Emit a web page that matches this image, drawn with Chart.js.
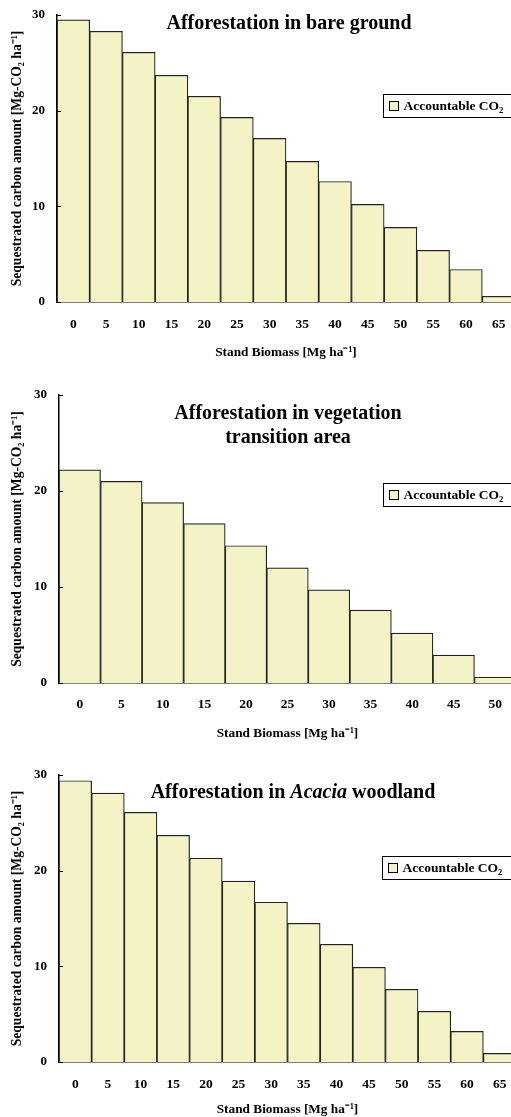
<!DOCTYPE html>
<html>
<head>
<meta charset="utf-8">
<script src="https://cdn.jsdelivr.net/npm/chart.js@4.4.1/dist/chart.umd.min.js"></script>
<style>
  html, body { margin: 0; padding: 0; background: #fff; overflow: hidden; }
  body { position: relative; width: 511px; height: 1117px; }
  canvas { position: absolute; left: 0; }
</style>
</head>
<body>
<canvas id="chartBare" width="520" height="362" style="top:0px;width:520px;height:362px"></canvas>
<canvas id="chartTransition" width="520" height="372" style="top:370px;width:520px;height:372px"></canvas>
<canvas id="chartAcacia" width="520" height="368" style="top:750px;width:520px;height:368px"></canvas>
<script>
// stand biomass classes (x tick labels)
const biomassBare = ["0", "5", "10", "15", "20", "25", "30", "35", "40", "45", "50", "55", "60", "65"];
const biomassTransition = ["0", "5", "10", "15", "20", "25", "30", "35", "40", "45", "50"];
const biomassAcacia = ["0", "5", "10", "15", "20", "25", "30", "35", "40", "45", "50", "55", "60", "65"];

// accountable CO2 [Mg-CO2 ha-1]
const co2Bare = [29.5, 28.3, 26.1, 23.7, 21.5, 19.3, 17.1, 14.7, 12.6, 10.2, 7.8, 5.4, 3.4, 0.6];
const co2Transition = [22.2, 21.0, 18.8, 16.6, 14.3, 12.0, 9.7, 7.6, 5.2, 2.9, 0.6];
const co2Acacia = [29.4, 28.1, 26.1, 23.7, 21.3, 18.9, 16.7, 14.5, 12.3, 9.9, 7.6, 5.3, 3.2, 0.9];

const yTickStep = 10;
const yMax = 30;

const serif = "'Liberation Serif', 'Times New Roman', serif";
const barFill = "#f3f3c6";
const barEdge = "#222";

// draws the in-plot title, the boxed legend and the small inward y ticks
const overlay = {
  id: "overlay",
  afterDraw(chart, args, o) {
    const { ctx, chartArea, scales } = chart;
    const y = scales.y;
    ctx.save();

    // inward tick marks on the y axis
    ctx.strokeStyle = "#000";
    ctx.lineWidth = 1;
    y.ticks.forEach((t) => {
      const py = Math.round(y.getPixelForValue(t.value)) + 0.5;
      ctx.beginPath();
      ctx.moveTo(chartArea.left, py);
      ctx.lineTo(chartArea.left + 4, py);
      ctx.stroke();
    });

    // title, possibly with italic segments
    ctx.fillStyle = "#000";
    ctx.textBaseline = "middle";
    o.title.forEach((line, i) => {
      const widths = line.map((seg) => {
        ctx.font = (seg.italic ? "italic " : "") + "bold 20px " + serif;
        return ctx.measureText(seg.text).width;
      });
      const total = widths.reduce((a, b) => a + b, 0);
      let x = o.titleX - total / 2;
      line.forEach((seg, j) => {
        ctx.font = (seg.italic ? "italic " : "") + "bold 20px " + serif;
        ctx.fillText(seg.text, x, o.titleY[i]);
        x += widths[j];
      });
    });

    // legend box
    const lx = o.legendX + 0.5, ly = o.legendY + 0.5;
    ctx.fillStyle = "#fff";
    ctx.fillRect(lx, ly, 140, 23);
    ctx.strokeStyle = "#000";
    ctx.strokeRect(lx, ly, 140, 23);
    ctx.fillStyle = barFill;
    ctx.fillRect(lx + 6, ly + 7, 9, 9);
    ctx.strokeRect(lx + 6, ly + 7, 9, 9);
    ctx.fillStyle = "#000";
    ctx.font = "bold 13.5px " + serif;
    ctx.textBaseline = "middle";
    const lbl = chart.data.datasets[0].label;
    ctx.fillText(lbl, lx + 20, ly + 12);
    const w = ctx.measureText(lbl).width;
    ctx.font = "bold 8.5px " + serif;
    ctx.fillText("2", lx + 20 + w, ly + 16);
    ctx.restore();
  },
};

function makeChart(id, labels, values, L) {
  return new Chart(document.getElementById(id), {
    type: "bar",
    data: {
      labels: labels,
      datasets: [
        {
          label: "Accountable CO",
          data: values,
          backgroundColor: barFill,
          borderColor: barEdge,
          borderWidth: 1.2,
          categoryPercentage: 1,
          barPercentage: 1,
        },
      ],
    },
    plugins: [overlay],
    options: {
      responsive: false,
      animation: false,
      layout: { padding: { top: L.top, right: 520 - L.right, bottom: 0, left: 0 } },
      plugins: {
        legend: { display: false },
        tooltip: { enabled: false },
        overlay: {
          title: L.title,
          titleX: L.titleX,
          titleY: L.titleY,
          legendX: L.legendX,
          legendY: L.legendY,
        },
      },
      scales: {
        x: {
          grid: { display: false, drawTicks: false },
          border: { color: "#000", width: 1.5 },
          ticks: {
            color: "#000",
            font: { family: serif, weight: "bold", size: 13.5 },
            padding: L.xTickPad,
            maxRotation: 0,
            autoSkip: false,
          },
          title: {
            display: true,
            text: "Stand Biomass [Mg ha⁻¹]",
            color: "#000",
            font: { family: serif, weight: "bold", size: 13.3 },
            padding: { top: 0, bottom: L.xTitlePad },
          },
          afterFit: (s) => {
            s.height = L.height - L.bottom;
            s.paddingLeft = 0;
            s.paddingRight = 0;
          },
        },
        y: {
          min: 0,
          max: yMax,
          grid: { display: false, drawTicks: false },
          border: { color: "#000", width: 1.5 },
          ticks: {
            stepSize: yTickStep,
            color: "#000",
            font: { family: serif, weight: "bold", size: 13 },
            padding: 12,
          },
          title: {
            display: true,
            text: "Sequestrated carbon amount [Mg-CO₂ ha⁻¹]",
            color: "#000",
            font: { family: serif, weight: "bold", size: 13.6 },
            padding: { top: 9, bottom: 0 },
          },
          afterFit: (s) => {
            s.width = L.left;
            s.paddingTop = 0;
            s.paddingBottom = 0;
          },
        },
      },
    },
  });
}

makeChart("chartBare", biomassBare, co2Bare, {
  height: 362, top: 15, bottom: 302, left: 57, right: 515,
  xTickPad: 14, xTitlePad: 1,
  title: [[{ text: "Afforestation in bare ground" }]],
  titleX: 289, titleY: [24],
  legendX: 383, legendY: 94,
});

makeChart("chartTransition", biomassTransition, co2Transition, {
  height: 372, top: 25, bottom: 313, left: 59, right: 516,
  xTickPad: 13, xTitlePad: 0,
  title: [[{ text: "Afforestation in vegetation" }], [{ text: "transition area" }]],
  titleX: 288, titleY: [44, 68],
  legendX: 383, legendY: 113,
});

makeChart("chartAcacia", biomassAcacia, co2Acacia, {
  height: 368, top: 25, bottom: 312, left: 59, right: 516,
  xTickPad: 14, xTitlePad: 0,
  title: [[{ text: "Afforestation in " }, { text: "Acacia", italic: true }, { text: " woodland" }]],
  titleX: 293, titleY: [43],
  legendX: 382, legendY: 106,
});
</script>
</body>
</html>
